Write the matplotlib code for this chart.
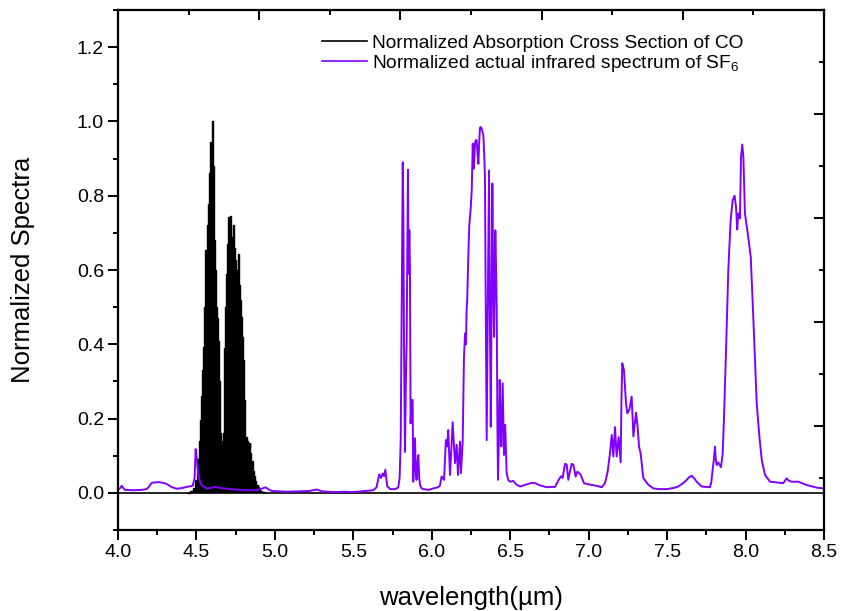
import numpy as np
import matplotlib
matplotlib.use('Agg')
import matplotlib.pyplot as plt
from matplotlib.ticker import MultipleLocator, FormatStrFormatter
from matplotlib.lines import Line2D

plt.rcParams['font.family'] = ['Liberation Sans', 'DejaVu Sans']
plt.rcParams['mathtext.fontset'] = 'custom'
plt.rcParams['mathtext.rm'] = 'Liberation Sans'
plt.rcParams['mathtext.default'] = 'regular'

# CO absorption cross section (line spectrum)
co_wl = [4.446, 4.470, 4.485, 4.500, 4.510, 4.517, 4.523, 4.530, 4.537, 4.544,
         4.552, 4.561, 4.568, 4.576, 4.583, 4.591, 4.598, 4.605, 4.611, 4.618,
         4.624, 4.629, 4.634, 4.639, 4.645, 4.650, 4.656, 4.661, 4.666, 4.671,
         4.677, 4.684, 4.693, 4.700, 4.707, 4.713, 4.719, 4.726, 4.735, 4.741,
         4.748, 4.754, 4.760, 4.767, 4.772, 4.778, 4.788, 4.794, 4.799, 4.804,
         4.809, 4.816, 4.823, 4.830, 4.836, 4.841, 4.846, 4.853, 4.862, 4.870,
         4.878, 4.886, 4.894, 4.902, 4.912, 4.925, 4.940]
co_val = [0.000, 0.004, 0.012, 0.035, 0.090, 0.140, 0.196, 0.260, 0.330, 0.393,
          0.500, 0.653, 0.720, 0.779, 0.860, 0.944, 0.930, 1.000, 0.880, 0.680,
          0.600, 0.500, 0.470, 0.410, 0.300, 0.205, 0.160, 0.140, 0.140, 0.160,
          0.390, 0.500, 0.590, 0.670, 0.743, 0.700, 0.745, 0.690, 0.720, 0.660,
          0.626, 0.560, 0.600, 0.644, 0.560, 0.519, 0.474, 0.420, 0.357, 0.250,
          0.160, 0.150, 0.140, 0.134, 0.120, 0.134, 0.107, 0.085, 0.060, 0.044,
          0.032, 0.022, 0.017, 0.010, 0.006, 0.003, 0.001]

# SF6 infrared spectrum
sf6_wl = [4.000, 4.012, 4.024, 4.035, 4.045, 4.100, 4.150, 4.183, 4.200, 4.215,
          4.235, 4.257, 4.285, 4.310, 4.340, 4.374, 4.410, 4.438, 4.476, 4.488,
          4.495, 4.503, 4.512, 4.522, 4.533, 4.565, 4.590, 4.618, 4.650, 4.693,
          4.750, 4.800, 4.884, 4.910, 4.940, 4.960, 4.980, 5.075, 5.150, 5.220,
          5.266, 5.300, 5.372, 5.450, 5.500, 5.550, 5.627, 5.648, 5.665, 5.676,
          5.687, 5.696, 5.704, 5.716, 5.735, 5.765, 5.786, 5.795, 5.802, 5.810,
          5.815, 5.819, 5.823, 5.829, 5.835, 5.840, 5.848, 5.852, 5.857, 5.861,
          5.865, 5.872, 5.878, 5.882, 5.888, 5.893, 5.898, 5.903, 5.909, 5.914,
          5.920, 5.925, 5.935, 5.946, 5.980, 6.010, 6.040, 6.052, 6.063, 6.078,
          6.090, 6.098, 6.105, 6.116, 6.125, 6.133, 6.140, 6.148, 6.159, 6.167,
          6.180, 6.186, 6.197, 6.205, 6.212, 6.218, 6.222, 6.226, 6.233, 6.239,
          6.248, 6.255, 6.261, 6.269, 6.275, 6.281, 6.286, 6.292, 6.297, 6.303,
          6.307, 6.313, 6.318, 6.324, 6.329, 6.335, 6.339, 6.344, 6.350, 6.357,
          6.365, 6.370, 6.376, 6.381, 6.386, 6.391, 6.397, 6.405, 6.410, 6.414,
          6.418, 6.422, 6.428, 6.433, 6.438, 6.443, 6.447, 6.452, 6.456, 6.460,
          6.468, 6.477, 6.487, 6.498, 6.520, 6.540, 6.562, 6.600, 6.637, 6.660,
          6.690, 6.733, 6.760, 6.785, 6.813, 6.825, 6.834, 6.849, 6.860, 6.870,
          6.882, 6.892, 6.902, 6.917, 6.928, 6.949, 6.970, 7.008, 7.051, 7.083,
          7.104, 7.121, 7.136, 7.147, 7.157, 7.168, 7.178, 7.191, 7.204, 7.209,
          7.214, 7.225, 7.238, 7.246, 7.259, 7.274, 7.285, 7.302, 7.312, 7.321,
          7.331, 7.348, 7.380, 7.412, 7.450, 7.497, 7.540, 7.571, 7.614, 7.640,
          7.657, 7.675, 7.688, 7.720, 7.773, 7.782, 7.790, 7.798, 7.805, 7.810,
          7.816, 7.826, 7.843, 7.854, 7.862, 7.875, 7.890, 7.905, 7.918, 7.930,
          7.939, 7.947, 7.953, 7.964, 7.971, 7.979, 7.986, 7.996, 8.017, 8.033,
          8.050, 8.071, 8.088, 8.103, 8.124, 8.156, 8.198, 8.240, 8.262, 8.275,
          8.294, 8.336, 8.390, 8.453, 8.496]
sf6_val = [0.008, 0.012, 0.019, 0.012, 0.008, 0.007, 0.008, 0.010, 0.018, 0.027,
           0.028, 0.029, 0.027, 0.024, 0.016, 0.011, 0.013, 0.016, 0.019, 0.040,
           0.118, 0.090, 0.050, 0.030, 0.020, 0.012, 0.013, 0.016, 0.013, 0.011,
           0.009, 0.007, 0.007, 0.010, 0.015, 0.009, 0.005, 0.003, 0.004, 0.005,
           0.009, 0.004, 0.002, 0.003, 0.002, 0.004, 0.007, 0.015, 0.050, 0.040,
           0.052, 0.045, 0.062, 0.018, 0.010, 0.010, 0.014, 0.040, 0.142, 0.600,
           0.890, 0.750, 0.400, 0.110, 0.300, 0.410, 0.870, 0.590, 0.707, 0.600,
           0.187, 0.250, 0.250, 0.030, 0.100, 0.147, 0.060, 0.035, 0.080, 0.102,
           0.040, 0.022, 0.012, 0.010, 0.008, 0.012, 0.015, 0.020, 0.044, 0.035,
           0.142, 0.125, 0.169, 0.048, 0.120, 0.190, 0.140, 0.080, 0.129, 0.048,
           0.138, 0.053, 0.138, 0.362, 0.429, 0.400, 0.492, 0.523, 0.640, 0.720,
           0.765, 0.820, 0.940, 0.873, 0.940, 0.950, 0.949, 0.910, 0.886, 0.950,
           0.983, 0.985, 0.980, 0.970, 0.962, 0.900, 0.850, 0.500, 0.142, 0.500,
           0.868, 0.500, 0.178, 0.500, 0.833, 0.600, 0.420, 0.707, 0.600, 0.492,
           0.200, 0.035, 0.150, 0.304, 0.200, 0.125, 0.200, 0.295, 0.200, 0.102,
           0.183, 0.053, 0.035, 0.030, 0.032, 0.022, 0.017, 0.022, 0.027, 0.026,
           0.020, 0.015, 0.016, 0.016, 0.038, 0.045, 0.040, 0.078, 0.076, 0.035,
           0.060, 0.078, 0.076, 0.044, 0.057, 0.049, 0.026, 0.022, 0.019, 0.015,
           0.026, 0.057, 0.107, 0.156, 0.098, 0.177, 0.098, 0.150, 0.082, 0.250,
           0.349, 0.330, 0.241, 0.214, 0.223, 0.259, 0.152, 0.216, 0.178, 0.124,
           0.107, 0.040, 0.022, 0.012, 0.010, 0.010, 0.013, 0.017, 0.030, 0.042,
           0.046, 0.038, 0.030, 0.017, 0.015, 0.030, 0.062, 0.090, 0.124, 0.090,
           0.075, 0.082, 0.069, 0.104, 0.196, 0.376, 0.600, 0.734, 0.788, 0.800,
           0.770, 0.709, 0.752, 0.739, 0.904, 0.938, 0.904, 0.752, 0.689, 0.635,
           0.465, 0.241, 0.152, 0.089, 0.048, 0.030, 0.028, 0.026, 0.039, 0.033,
           0.030, 0.030, 0.021, 0.014, 0.012]

co_label = 'Normalized Absorption Cross Section of CO'
sf6_label = 'Normalized actual infrared spectrum of SF$_6$'
purple = '#8000FF'

fig = plt.figure(figsize=(8.41, 6.11), dpi=100)
ax = fig.add_axes([0.1403, 0.1326, 0.8395, 0.851])

ax.fill_between(co_wl, 0, co_val, step='mid', color='black', lw=0)
ax.step(co_wl, co_val, where='mid', color='black', lw=1.0)
ax.axhline(0, color='black', lw=1.2)
ax.plot(sf6_wl, sf6_val, color=purple, lw=1.4)

ax.set_xlim(4.0, 8.5)
ax.set_ylim(-0.1, 1.3)
ax.xaxis.set_major_locator(MultipleLocator(0.5))
ax.xaxis.set_minor_locator(MultipleLocator(0.25))
ax.yaxis.set_major_locator(MultipleLocator(0.2))
ax.yaxis.set_minor_locator(MultipleLocator(0.1))
ax.xaxis.set_major_formatter(FormatStrFormatter('%.1f'))
ax.yaxis.set_major_formatter(FormatStrFormatter('%.1f'))
ax.tick_params(which='major', direction='out', length=7, width=1.4,
               labelsize=14, pad=3)
ax.tick_params(which='minor', direction='out', length=3.5, width=1.4)
for s in ax.spines.values():
    s.set_linewidth(1.5)

ax.set_xlabel('wavelength(µm)', fontsize=18.5)
ax.set_ylabel('Normalized Spectra', fontsize=18.5)
ax.xaxis.set_label_coords(0.5, -0.108)
ax.yaxis.set_label_coords(-0.118, 0.5)

# top and right axes of the original have their own tick spacing
top = ax.twiny()
top.set_xlim(0, 1)
top.xaxis.set_major_locator(MultipleLocator(0.2))
top.xaxis.set_minor_locator(MultipleLocator(0.1))
top.tick_params(which='major', direction='in', length=7, width=1.4, labeltop=False)
top.tick_params(which='minor', direction='in', length=3.5, width=1.4)
right = ax.twinx()
right.set_ylim(0, 1)
right.yaxis.set_major_locator(MultipleLocator(0.2))
right.yaxis.set_minor_locator(MultipleLocator(0.1))
right.tick_params(which='major', direction='in', length=7, width=1.4, labelright=False)
right.tick_params(which='minor', direction='in', length=3.5, width=1.4)
for a in (top, right):
    for s in a.spines.values():
        s.set_linewidth(1.5)

handles = [Line2D([], [], color='black', lw=1.2),
           Line2D([], [], color=purple, lw=1.2)]
right.legend(handles, [co_label, sf6_label], loc='upper left',
             bbox_to_anchor=(0.276, 0.971), frameon=False, fontsize=13.8,
             handlelength=2.3, handletextpad=0.3, borderpad=0,
             labelspacing=0.05)

fig.savefig('out.png', dpi=100)
